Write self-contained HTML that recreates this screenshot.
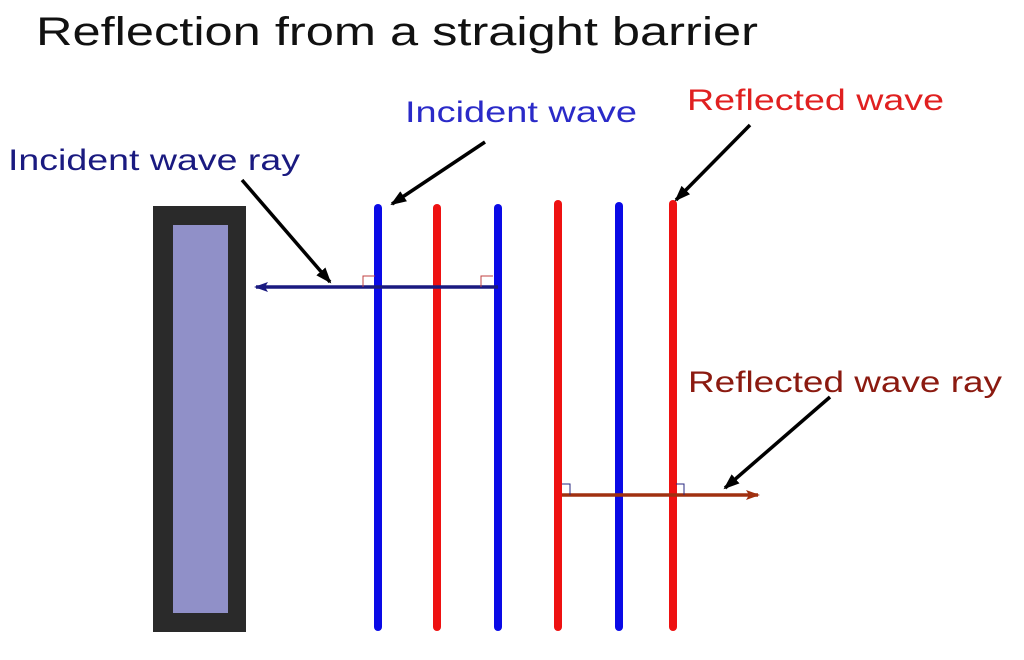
<!DOCTYPE html>
<html><head><style>body{margin:0;background:#fff}svg{display:block}</style></head><body>
<svg width="1024" height="660" xmlns="http://www.w3.org/2000/svg" font-family="Liberation Sans, sans-serif">
<defs>
<marker id="an" markerWidth="14" markerHeight="10" refX="12" refY="5" orient="auto" markerUnits="userSpaceOnUse"><path d="M0,0 L14,5 L0,10 L3,5 Z" fill="#1a1a80"/></marker>
<marker id="ar" markerWidth="14" markerHeight="10" refX="12" refY="5" orient="auto" markerUnits="userSpaceOnUse"><path d="M0,0 L14,5 L0,10 L3,5 Z" fill="#a03010"/></marker>
<marker id="ak" markerWidth="16" markerHeight="12" refX="14" refY="6" orient="auto" markerUnits="userSpaceOnUse"><path d="M0,0 L16,6 L0,12 Z" fill="#000"/></marker>
</defs>
<text x="36" y="45" font-size="40" fill="#111" textLength="722" lengthAdjust="spacingAndGlyphs">Reflection from a straight barrier</text>
<text x="405" y="122" font-size="30" fill="#2a2ac8" textLength="232" lengthAdjust="spacingAndGlyphs">Incident wave</text>
<text x="687" y="110" font-size="30" fill="#e02020" textLength="257" lengthAdjust="spacingAndGlyphs">Reflected wave</text>
<text x="8" y="170" font-size="30" fill="#1a1a80" textLength="292" lengthAdjust="spacingAndGlyphs">Incident wave ray</text>
<text x="688" y="392" font-size="30" fill="#8b1a10" textLength="314" lengthAdjust="spacingAndGlyphs">Reflected wave ray</text>
<rect x="153" y="206" width="93" height="426" fill="#2a2a2a"/>
<rect x="173" y="225" width="55" height="388" fill="#9090c8"/>
<g stroke-width="8" stroke-linecap="round">
<line x1="378" y1="208" x2="378" y2="627" stroke="#0a0ae6"/>
<line x1="437" y1="208" x2="437" y2="627" stroke="#ee1111"/>
<line x1="498" y1="208" x2="498" y2="627" stroke="#0a0ae6"/>
<line x1="558" y1="204" x2="558" y2="627" stroke="#ee1111"/>
<line x1="619" y1="206" x2="619" y2="627" stroke="#0a0ae6"/>
<line x1="673" y1="204" x2="673" y2="627" stroke="#ee1111"/>
</g>
<line x1="498" y1="287" x2="256" y2="287" stroke="#1a1a80" stroke-width="3.5" marker-end="url(#an)"/>
<path d="M363,287 V276 H375 M481,287 V276 H493" fill="none" stroke="#c04040" stroke-width="1"/>
<line x1="562" y1="495" x2="758" y2="495" stroke="#a03010" stroke-width="3.5" marker-end="url(#ar)"/>
<path d="M562,484 H570 V495 M676,484 H684 V495" fill="none" stroke="#2a2a80" stroke-width="1"/>
<g stroke="#000" stroke-width="3.5">
<line x1="485" y1="142" x2="392" y2="204" marker-end="url(#ak)"/>
<line x1="242" y1="180" x2="330" y2="282" marker-end="url(#ak)"/>
<line x1="750" y1="125" x2="676" y2="200" marker-end="url(#ak)"/>
<line x1="830" y1="397" x2="725" y2="488" marker-end="url(#ak)"/>
</g>
</svg>
</body></html>
